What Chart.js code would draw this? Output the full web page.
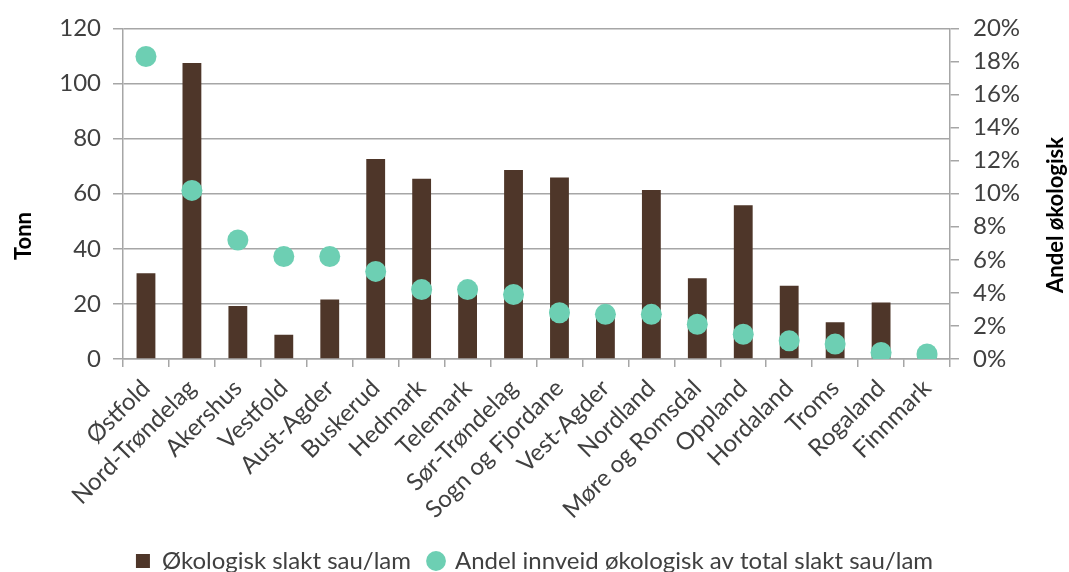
<!DOCTYPE html>
<html>
<head>
<meta charset="utf-8">
<script src="https://cdn.jsdelivr.net/npm/chart.js@4"></script>
<style>
    body { margin: 0; background: #fff; }
    #wrap { width: 1069px; height: 572px; }
</style>
</head>
<body>
<div id="wrap"><canvas id="chart"></canvas></div>
<script>
// Data
var fylker = ['Østfold', 'Nord-Trøndelag', 'Akershus', 'Vestfold', 'Aust-Agder', 'Buskerud', 'Hedmark',
    'Telemark', 'Sør-Trøndelag', 'Sogn og Fjordane', 'Vest-Agder', 'Nordland', 'Møre og Romsdal',
    'Oppland', 'Hordaland', 'Troms', 'Rogaland', 'Finnmark'];
var tonnOkologisk = [31.1, 107.4, 19.2, 8.8, 21.6, 72.6, 65.4, 23.5, 68.6, 65.9, 15.5, 61.3, 29.3, 55.8, 26.6, 13.3, 20.5, 1.0];
var andelOkologisk = [18.3, 10.2, 7.2, 6.2, 6.2, 5.3, 4.2, 4.2, 3.9, 2.8, 2.7, 2.7, 2.1, 1.5, 1.1, 0.9, 0.4, 0.3];

var FONT = 'Lato, Calibri, sans-serif';
var TEXT = '#404040';
var GRID = '#a6a6a6';

// Axis titles drawn by hand so both read bottom to top
var axisTitles = {
    id: 'axisTitles',
    afterDraw: function (chart) {
        var ctx = chart.ctx;
        ctx.save();
        ctx.fillStyle = '#000';
        ctx.font = 'bold 22px ' + FONT;
        ctx.textAlign = 'center';
        ctx.textBaseline = 'middle';
        [[24, 236, 'Tonn'], [1056, 215, 'Andel økologisk']].forEach(function (t) {
            ctx.save();
            ctx.translate(t[0], t[1]);
            ctx.rotate(-Math.PI / 2);
            ctx.fillText(t[2], 0, 0);
            ctx.restore();
        });
        ctx.restore();
    }
};

new Chart(document.getElementById('chart'), {
    type: 'bar',
    data: {
        labels: fylker,
        datasets: [{
            label: 'Økologisk slakt sau/lam',
            data: tonnOkologisk,
            backgroundColor: '#4e3629',
            yAxisID: 'y',
            order: 1,
            categoryPercentage: 1,
            barPercentage: 0.41,
            pointStyle: 'rect'
        }, {
            type: 'line',
            label: 'Andel innveid økologisk av total slakt sau/lam',
            data: andelOkologisk,
            yAxisID: 'y1',
            order: 0,
            showLine: false,
            pointRadius: 10.5,
            pointHoverRadius: 10.5,
            pointBackgroundColor: '#6dcfb3',
            pointBorderWidth: 0,
            backgroundColor: '#6dcfb3',
            borderColor: '#6dcfb3',
            pointStyle: 'circle'
        }]
    },
    options: {
        responsive: true,
        maintainAspectRatio: false,
        animation: false,
        layout: { padding: { top: 22, left: 0, right: 0, bottom: -11 } },
        plugins: {
            tooltip: { enabled: false },
            legend: {
                position: 'bottom',
                labels: {
                    usePointStyle: true,
                    boxWidth: 14,
                    boxHeight: 14,
                    padding: 18,
                    color: TEXT,
                    font: { family: FONT, size: 24 },
                    sort: function (a, b) { return a.datasetIndex - b.datasetIndex; }
                }
            }
        },
        scales: {
            x: {
                offset: true,
                grid: {
                    offset: true,
                    drawOnChartArea: false,
                    drawTicks: true,
                    tickLength: 8,
                    color: GRID,
                    lineWidth: 1.5
                },
                border: { color: GRID, width: 1.5 },
                ticks: {
                    autoSkip: false,
                    minRotation: 45,
                    maxRotation: 45,
                    padding: 7,
                    color: TEXT,
                    font: { family: FONT, size: 24 }
                },
                afterFit: function (scale) { scale.height = 172; }
            },
            y: {
                position: 'left',
                min: 0,
                max: 120,
                ticks: {
                    stepSize: 20,
                    padding: 12,
                    color: TEXT,
                    font: { family: FONT, size: 24 }
                },
                grid: { color: GRID, lineWidth: 1.5, tickLength: 10 },
                border: { color: GRID, width: 1.5 },
                afterFit: function (scale) { scale.width = 123; }
            },
            y1: {
                position: 'right',
                min: 0,
                max: 20,
                ticks: {
                    stepSize: 2,
                    padding: 14,
                    color: TEXT,
                    font: { family: FONT, size: 24 },
                    callback: function (v) { return v + '%'; }
                },
                grid: { drawOnChartArea: false, color: GRID, lineWidth: 1.5, tickLength: 9 },
                border: { color: GRID, width: 1.5 },
                afterFit: function (scale) { scale.width = 119; }
            }
        }
    },
    plugins: [axisTitles]
});
</script>
</body>
</html>
